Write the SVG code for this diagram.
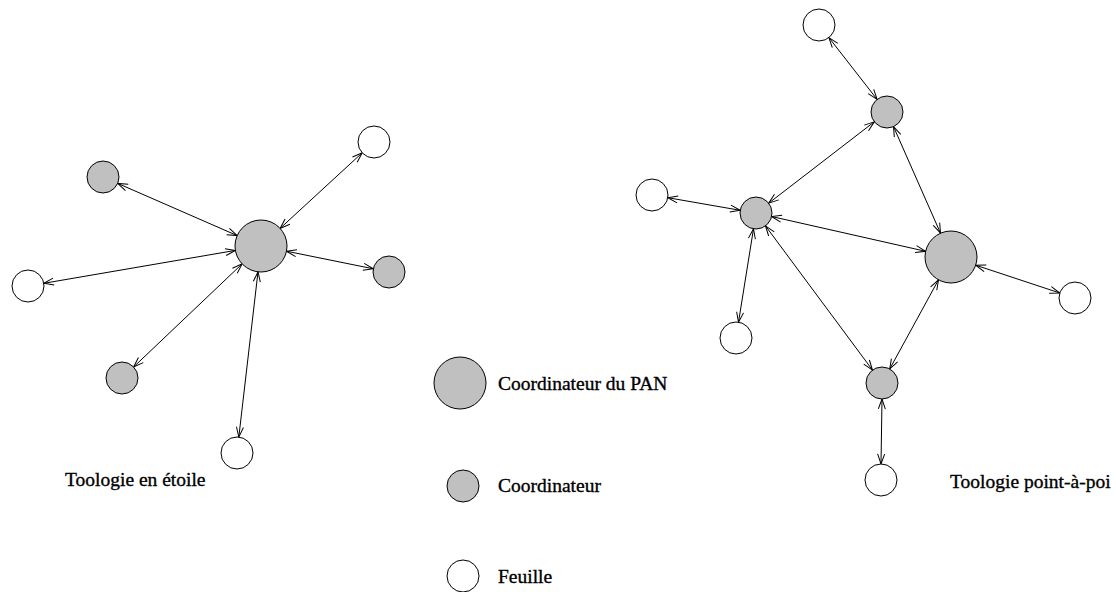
<svg xmlns="http://www.w3.org/2000/svg" width="1116" height="592" viewBox="0 0 1116 592">
<style>
.pan{fill:#c0c0c0;stroke:#000;stroke-width:1}
.coord{fill:#c0c0c0;stroke:#000;stroke-width:1}
.leaf{fill:#fff;stroke:#000;stroke-width:1}
.lbl{font-family:"Liberation Serif","Times New Roman",serif;font-size:19.5px;fill:#000;stroke:#000;stroke-width:0.35}
#connectors line{stroke:#000;stroke-width:1;marker-start:url(#arr);marker-end:url(#arr)}
</style>
<defs>
<marker id="arr" markerUnits="userSpaceOnUse" markerWidth="12" markerHeight="10" refX="10" refY="3.5" orient="auto-start-reverse" overflow="visible">
<path d="M0,0 L10,3.5 L0,7" fill="none" stroke="#000" stroke-width="1"/>
</marker>
</defs>
<rect width="1116" height="592" fill="#fff"/>
<g id="connectors">
<line x1="237.2" y1="235.6" x2="117.7" y2="183.4"/>
<line x1="280.1" y1="228.4" x2="362.2" y2="152.8"/>
<line x1="235.4" y1="250.4" x2="43.8" y2="283.3"/>
<line x1="286.5" y1="251.2" x2="373.3" y2="268.8"/>
<line x1="242.1" y1="263.9" x2="133.6" y2="367.0"/>
<line x1="258.0" y1="271.8" x2="238.8" y2="437.1"/>
<line x1="828.9" y1="37.6" x2="877.1" y2="99.4"/>
<line x1="874.3" y1="121.8" x2="768.7" y2="203.2"/>
<line x1="893.5" y1="126.6" x2="940.5" y2="233.2"/>
<line x1="667.8" y1="197.7" x2="740.2" y2="210.3"/>
<line x1="771.6" y1="216.5" x2="925.6" y2="251.3"/>
<line x1="753.5" y1="228.8" x2="738.5" y2="322.2"/>
<line x1="765.5" y1="225.9" x2="872.5" y2="370.1"/>
<line x1="975.7" y1="265.2" x2="1059.8" y2="293.0"/>
<line x1="938.5" y1="279.8" x2="889.7" y2="369.0"/>
<line x1="882" y1="399" x2="881" y2="464"/>
</g>
<g id="star-pan"><circle class="pan" cx="261" cy="246" r="26"/></g>
<g id="star-coord-tl"><circle class="coord" cx="103" cy="177" r="16"/></g>
<g id="star-leaf-tr"><circle class="leaf" cx="374" cy="142" r="16"/></g>
<g id="star-leaf-l"><circle class="leaf" cx="28" cy="286" r="16"/></g>
<g id="star-coord-r"><circle class="coord" cx="389" cy="272" r="16"/></g>
<g id="star-coord-bl"><circle class="coord" cx="122" cy="378" r="16"/></g>
<g id="star-leaf-b"><circle class="leaf" cx="237" cy="453" r="16"/></g>
<g id="p2p-leaf-top"><circle class="leaf" cx="819" cy="25" r="16"/></g>
<g id="p2p-coord-top"><circle class="coord" cx="887" cy="112" r="16"/></g>
<g id="p2p-leaf-left"><circle class="leaf" cx="652" cy="195" r="16"/></g>
<g id="p2p-coord-mid"><circle class="coord" cx="756" cy="213" r="16"/></g>
<g id="p2p-pan"><circle class="pan" cx="951" cy="257" r="26"/></g>
<g id="p2p-leaf-right"><circle class="leaf" cx="1075" cy="298" r="16"/></g>
<g id="p2p-leaf-bl"><circle class="leaf" cx="736" cy="338" r="16"/></g>
<g id="p2p-coord-bot"><circle class="coord" cx="882" cy="383" r="16"/></g>
<g id="p2p-leaf-bot"><circle class="leaf" cx="881" cy="480" r="16"/></g>
<g id="legend-pan"><circle class="pan" cx="460" cy="383" r="26"/><text class="lbl" x="498" y="390">Coordinateur du PAN</text></g>
<g id="legend-coord"><circle class="coord" cx="463" cy="486" r="16"/><text class="lbl" x="498" y="492">Coordinateur</text></g>
<g id="legend-leaf"><circle class="leaf" cx="463" cy="576" r="16"/><text class="lbl" x="498" y="583">Feuille</text></g>
<g id="title-star"><text class="lbl" x="65" y="486">Toologie en étoile</text></g>
<g id="title-p2p"><text class="lbl" x="950" y="488">Toologie point-à-poi</text></g>
</svg>
